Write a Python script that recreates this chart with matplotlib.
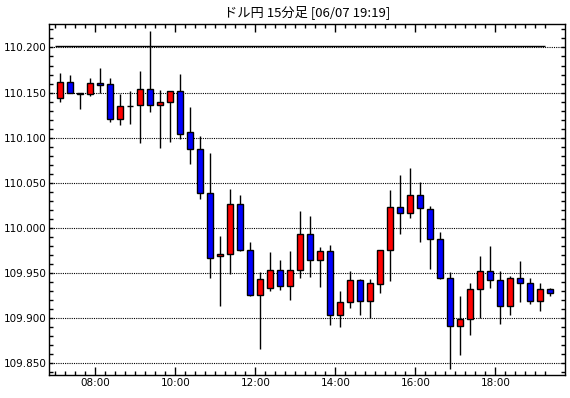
import numpy as np
import matplotlib
matplotlib.use("Agg")
import matplotlib.pyplot as plt

###
### Data: USD/JPY 15-minute candles, 07:00 - 19:15
###
title = "ドル円 15分足 [06/07 19:19]"
start_hour = 7.0
step_min = 15

opens = [110.144, 110.162, 110.150, 110.148, 110.161, 110.159, 110.121, 110.135, 110.136, 110.154,
         110.136, 110.140, 110.152, 110.106, 110.088, 110.039, 109.969, 109.971, 110.026, 109.976,
         109.926, 109.933, 109.953, 109.936, 109.953, 109.993, 109.964, 109.974, 109.903, 109.918,
         109.942, 109.919, 109.938, 109.976, 110.023, 110.017, 110.037, 110.021, 109.988, 109.945,
         109.891, 109.899, 109.932, 109.952, 109.942, 109.913, 109.944, 109.939, 109.919, 109.932]
highs = [110.172, 110.169, 110.150, 110.166, 110.177, 110.166, 110.148, 110.152, 110.174, 110.218,
         110.153, 110.152, 110.171, 110.134, 110.102, 110.083, 109.991, 110.043, 110.036, 109.984,
         109.951, 109.973, 109.964, 109.974, 110.019, 110.013, 109.979, 109.981, 109.930, 109.952,
         109.943, 109.943, 109.976, 110.042, 110.059, 110.066, 110.051, 110.024, 109.996, 109.951,
         109.925, 109.939, 109.969, 109.980, 109.952, 109.947, 109.963, 109.944, 109.939, 109.933]
lows = [110.140, 110.150, 110.132, 110.146, 110.150, 110.117, 110.114, 110.115, 110.094, 110.129,
        110.089, 110.095, 110.099, 110.071, 110.032, 109.944, 109.914, 109.949, 109.974, 109.925,
        109.866, 109.930, 109.931, 109.920, 109.945, 109.946, 109.935, 109.892, 109.890, 109.911,
        109.903, 109.900, 109.928, 109.941, 109.993, 110.011, 109.984, 109.954, 109.943, 109.844,
        109.859, 109.881, 109.900, 109.933, 109.894, 109.903, 109.918, 109.916, 109.908, 109.925]
closes = [110.162, 110.150, 110.148, 110.161, 110.158, 110.121, 110.135, 110.135, 110.154, 110.136,
          110.140, 110.152, 110.104, 110.088, 110.039, 109.967, 109.971, 110.026, 109.976, 109.926,
          109.943, 109.953, 109.936, 109.953, 109.993, 109.964, 109.974, 109.903, 109.918, 109.942,
          109.919, 109.939, 109.976, 110.023, 110.016, 110.037, 110.022, 109.988, 109.945, 109.891,
          109.899, 109.932, 109.952, 109.942, 109.913, 109.944, 109.939, 109.919, 109.932, 109.928]
ref_level = 110.202

###
### Plot
###
o = np.array(opens); h = np.array(highs); l = np.array(lows); c = np.array(closes)
n = len(o)
t0 = start_hour + np.arange(n) * step_min / 60.0          # candle start (hours)
xc = t0 + step_min / 120.0                                 # candle centre
up = c >= o
colors = np.where(up, "#ff0000", "#0000ff")

fig = plt.figure(figsize=(5.70, 3.98), dpi=100)
ax = fig.add_axes([49/570, 1-375/398, (565-49)/570, (375-24)/398])

for yv in np.arange(109.85, 110.2001, 0.05):
    ax.axhline(yv, color="black", lw=0.8, ls=(0, (1, 1)), zorder=1)
ax.hlines(ref_level, t0[0], t0[-1], color="black", lw=1.0, zorder=2)

ax.vlines(xc, l, h, color="black", lw=1.0, zorder=3)
ax.bar(xc, np.abs(c - o), bottom=np.minimum(o, c), width=0.15,
       color=colors, edgecolor="black", linewidth=1.0, zorder=4)

ax.set_xlim(6.842, 19.742)
ax.set_ylim(109.837, 110.226)

ax.set_xticks(np.arange(8, 19, 2))
ax.set_xticklabels(["%02d:00" % v for v in range(8, 19, 2)])
ax.set_xticks(np.arange(start_hour, t0[-1] + 0.01, 0.25), minor=True)
ax.set_yticks(np.arange(109.85, 110.2001, 0.05))
ax.set_yticklabels(["%.3f" % v for v in np.arange(109.85, 110.2001, 0.05)])
ax.set_yticks(np.arange(109.84, 110.2201, 0.01), minor=True)

ax.tick_params(which="both", direction="in", top=True, right=True,
               labelsize=7.5, width=1.0, color="black", pad=2)
ax.tick_params(which="major", length=6)
ax.tick_params(which="minor", length=3)
ax.tick_params(axis="y", which="major", length=3)
for s in ax.spines.values():
    s.set_linewidth(1.0)

fig.text(307/570, 1-12/398, title, ha="center", va="center",
         fontsize=9.5, family=["Noto Sans CJK JP", "DejaVu Sans"])

fig.savefig("out.png", dpi=100)
